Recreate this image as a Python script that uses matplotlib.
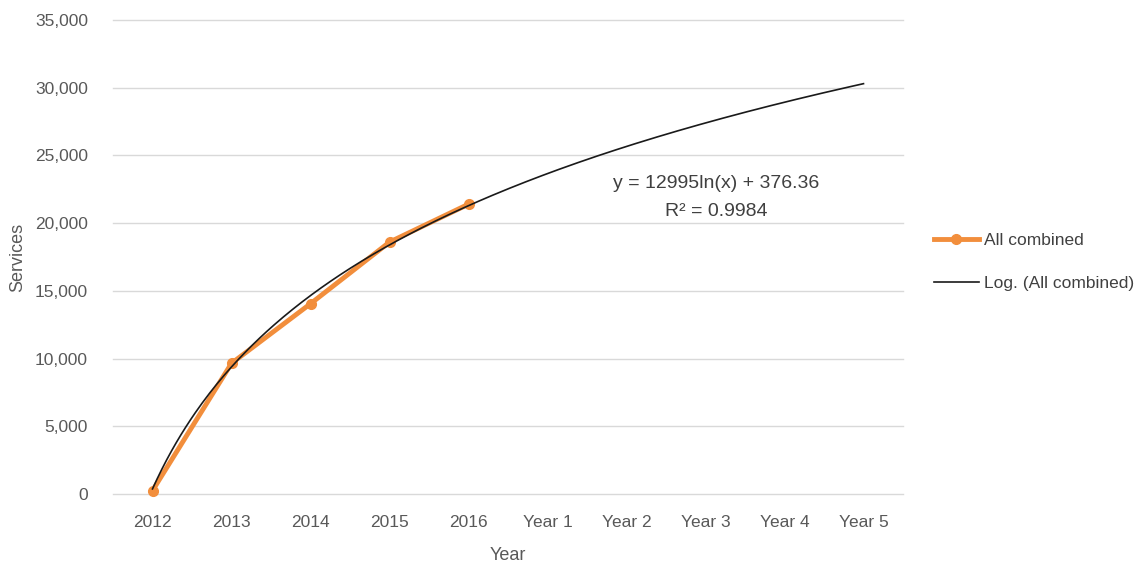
import numpy as np
import matplotlib
matplotlib.use("Agg")
import matplotlib.pyplot as plt
from matplotlib.lines import Line2D

categories = ["2012", "2013", "2014", "2015", "2016",
              "Year 1", "Year 2", "Year 3", "Year 4", "Year 5"]
all_combined = [250, 9650, 14050, 18600, 21400]
trend_a = 12995.0   # from the chart's equation label
trend_b = 376.36
r2_label = "0.9984"
y_ticks = [0, 5000, 10000, 15000, 20000, 25000, 30000, 35000]

plt.rcParams['font.family'] = ['Liberation Sans', 'DejaVu Sans']
grey = '#595959'

fig = plt.figure(figsize=(11.39, 5.66), dpi=100)
ax = fig.add_axes([113/1139, 1-494/566, (903-113)/1139, (494-20)/566])

xpos = np.arange(1, len(categories) + 1)
ax.plot(xpos[:len(all_combined)], all_combined, color='#F28E3C', lw=3.5,
        marker='o', ms=7, zorder=3, clip_on=False)
xt = np.linspace(1, len(categories), 300)
ax.plot(xt, trend_a * np.log(xt) + trend_b, color='#1a1a1a', lw=1.2, zorder=4)

ax.set_xlim(0.5, len(categories) + 0.5)
ax.set_ylim(y_ticks[0], y_ticks[-1])
ax.set_xticks(xpos)
ax.set_xticklabels(categories)
ax.set_yticks(y_ticks)
ax.set_yticklabels([f"{v:,}" for v in y_ticks])
ax.grid(axis='y', color='#d9d9d9', lw=1)
for gl in ax.get_ygridlines():
    gl.set_clip_on(False)
ax.set_axisbelow(True)
for s in ax.spines.values():
    s.set_visible(False)
ax.tick_params(length=0, labelsize=12.5, colors=grey, pad=15)
ax.tick_params(axis='y', pad=18)
ax.set_xlabel("Year", fontsize=13, color=grey, labelpad=12)
ax.set_ylabel("Services", fontsize=13, color=grey, labelpad=6)

fig.text(716/1139, 1-183/566, f"y = {trend_a:.0f}ln(x) + {trend_b}",
         ha='center', va='center', fontsize=14, color='#404040')
fig.text(716/1139, 1-211/566, f"R² = {r2_label}", ha='center', va='center',
         fontsize=14, color='#404040')

handles = [Line2D([], [], color='#F28E3C', lw=3.5, marker='o', ms=7),
           Line2D([], [], color='#1a1a1a', lw=1.2)]
fig.legend(handles, ["All combined", "Log. (All combined)"],
           loc='center left', bbox_to_anchor=(918/1139, 1-262/566),
           frameon=False, fontsize=12.5, labelcolor='#404040',
           handlelength=2.6, handletextpad=0.3, labelspacing=1.6)

fig.savefig("out.png", dpi=100)
